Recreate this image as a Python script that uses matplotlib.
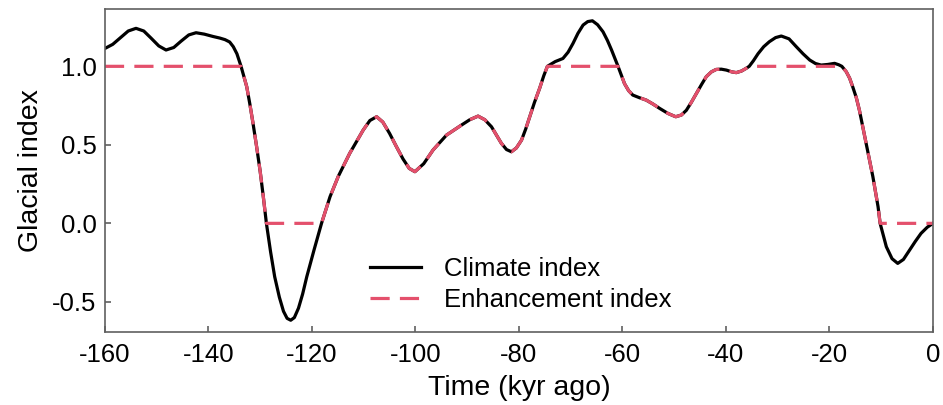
import matplotlib
matplotlib.use('Agg')
import matplotlib.pyplot as plt

# Zeit (kyr vor heute) und Indexwerte
time_kyr = [
    -160, -158.5, -157.1, -155.5, -154.0, -152.5, -151.1, -149.6, -148.2, -146.7,
    -145.3, -143.8, -142.4, -140.8, -139.1, -137.8, -136.8, -135.9, -135.2, -134.5,
    -133.7, -132.6, -132.0, -131.4, -130.7, -130.0, -129.4, -128.8, -128.0, -127.2,
    -126.3, -125.5, -124.8, -124.1, -123.4, -122.6, -121.8, -121.0, -119.6, -118.15,
    -116.5, -114.9, -112.7, -110.1, -108.8, -107.5, -106.3, -105.0, -103.7, -102.4,
    -101.2, -100.1, -98.4, -96.6, -94.0, -91.1, -89.5, -87.9, -86.6, -85.3,
    -84.3, -83.4, -82.4, -81.45, -80.5, -79.5, -78.7, -77.9, -77.0, -76.0,
    -75.2, -74.5, -73.0, -71.5, -70.5, -69.55, -68.6, -67.6, -66.7, -65.8,
    -64.8, -63.75, -62.9, -62.1, -60.85, -59.6, -58.8, -58.0, -56.7, -55.4,
    -54.1, -52.8, -51.2, -49.7, -48.6, -47.65, -46.7, -45.7, -44.7, -43.8,
    -42.8, -41.9, -40.9, -39.9, -38.9, -38.0, -37.0, -36.1, -35.5, -34.7,
    -33.8, -32.7, -31.6, -30.4, -29.3, -27.8, -26.4, -25.1, -23.8, -22.7,
    -21.6, -20.3, -19.0, -18.2, -17.6, -16.75, -16.1, -15.5, -14.8, -14.2,
    -12.9, -11.6, -10.6, -10.2, -9.0, -7.9, -6.8, -5.7, -4.5, -3.4,
    -2.3, -1.1, 0,
]

climate_index = [
    1.114, 1.14, 1.18, 1.225, 1.242, 1.225, 1.18, 1.13, 1.104, 1.12,
    1.16, 1.20, 1.214, 1.205, 1.19, 1.18, 1.17, 1.155, 1.125, 1.08,
    1.0, 0.87, 0.76, 0.64, 0.49, 0.33, 0.17, 0.0, -0.18, -0.34,
    -0.47, -0.56, -0.605, -0.617, -0.60, -0.54, -0.45, -0.34, -0.17, 0.0,
    0.17, 0.30, 0.446, 0.594, 0.655, 0.679, 0.645, 0.573, 0.49, 0.41,
    0.35, 0.329, 0.38, 0.467, 0.562, 0.626, 0.66, 0.683, 0.66, 0.615,
    0.56, 0.51, 0.47, 0.456, 0.48, 0.53, 0.60, 0.679, 0.77, 0.86,
    0.94, 1.0, 1.03, 1.05, 1.09, 1.146, 1.21, 1.263, 1.285, 1.29,
    1.265, 1.22, 1.165, 1.104, 1.0, 0.89, 0.845, 0.817, 0.80, 0.785,
    0.76, 0.732, 0.70, 0.679, 0.69, 0.72, 0.77, 0.828, 0.885, 0.934,
    0.965, 0.98, 0.982, 0.976, 0.965, 0.96, 0.97, 0.987, 1.0, 1.035,
    1.08, 1.125, 1.157, 1.183, 1.193, 1.175, 1.125, 1.08, 1.04, 1.018,
    1.008, 1.012, 1.019, 1.01, 1.0, 0.966, 0.925, 0.87, 0.80, 0.72,
    0.51, 0.297, 0.106, 0.0, -0.149, -0.225, -0.255, -0.23, -0.17, -0.115,
    -0.064, -0.025, 0.0,
]

enhancement_index = [
    1.0, 1.0, 1.0, 1.0, 1.0, 1.0, 1.0, 1.0, 1.0, 1.0,
    1.0, 1.0, 1.0, 1.0, 1.0, 1.0, 1.0, 1.0, 1.0, 1.0,
    1.0, 0.87, 0.76, 0.64, 0.49, 0.33, 0.17, 0.0, 0.0, 0.0,
    0.0, 0.0, 0.0, 0.0, 0.0, 0.0, 0.0, 0.0, 0.0, 0.0,
    0.17, 0.30, 0.446, 0.594, 0.655, 0.679, 0.645, 0.573, 0.49, 0.41,
    0.35, 0.329, 0.38, 0.467, 0.562, 0.626, 0.66, 0.683, 0.66, 0.615,
    0.56, 0.51, 0.47, 0.456, 0.48, 0.53, 0.60, 0.679, 0.77, 0.86,
    0.94, 1.0, 1.0, 1.0, 1.0, 1.0, 1.0, 1.0, 1.0, 1.0,
    1.0, 1.0, 1.0, 1.0, 1.0, 0.89, 0.845, 0.817, 0.80, 0.785,
    0.76, 0.732, 0.70, 0.679, 0.69, 0.72, 0.77, 0.828, 0.885, 0.934,
    0.965, 0.98, 0.982, 0.976, 0.965, 0.96, 0.97, 0.987, 1.0, 1.0,
    1.0, 1.0, 1.0, 1.0, 1.0, 1.0, 1.0, 1.0, 1.0, 1.0,
    1.0, 1.0, 1.0, 1.0, 1.0, 0.966, 0.925, 0.87, 0.80, 0.72,
    0.51, 0.297, 0.106, 0.0, 0.0, 0.0, 0.0, 0.0, 0.0, 0.0,
    0.0, 0.0, 0.0,
]

x_ticks = [-160, -140, -120, -100, -80, -60, -40, -20, 0]
y_ticks = [-0.5, 0.0, 0.5, 1.0]

plt.rcParams['font.family'] = ['Liberation Sans', 'DejaVu Sans']

fig = plt.figure(figsize=(9.43, 4.05), dpi=100)
ax = fig.add_axes([0.1113, 0.181, 0.878, 0.7975])

ax.plot(time_kyr, climate_index, color='black', lw=2.3, label='Climate index',
        solid_joinstyle='round')
ax.plot(time_kyr, enhancement_index, color='#e4506c', lw=2.3, dashes=(6, 3.2),
        label='Enhancement index')

ax.set_xlim(-160, 0)
ax.set_ylim(-0.69, 1.367)
ax.set_xticks(x_ticks)
ax.set_xticklabels([str(v) for v in x_ticks])
ax.set_yticks(y_ticks)
ax.set_yticklabels(['%.1f' % v for v in y_ticks])

for s in ax.spines.values():
    s.set_color('#606060')
    s.set_linewidth(1.2)
ax.tick_params(direction='in', length=4, width=1.2, color='#606060',
               labelsize=18.5, colors='black')
ax.tick_params(axis='x', pad=8)
ax.tick_params(axis='y', pad=6)

ax.set_xlabel('Time (kyr ago)', fontsize=20.5, labelpad=6)
ax.set_ylabel('Glacial index', fontsize=20.5, labelpad=6)

ax.legend(loc='lower left', bbox_to_anchor=(0.292, -0.01), frameon=False,
          fontsize=18.5, handlelength=2.0, handletextpad=0.9, labelspacing=0.25)

fig.savefig('out.png', dpi=100)
